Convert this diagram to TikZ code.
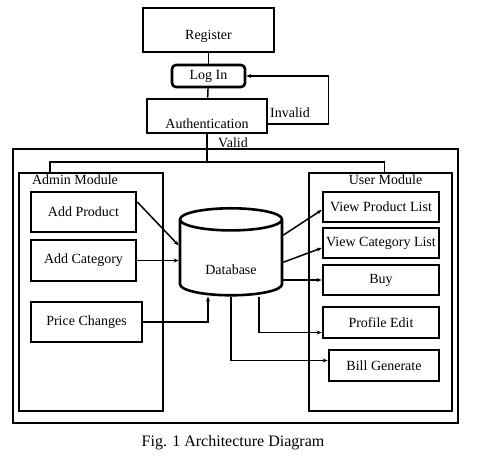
\documentclass[tikz,border=0pt]{standalone}
\usepackage{fontspec}
\setmainfont{Liberation Serif}
\usetikzlibrary{shapes.geometric}
\usetikzlibrary{arrows.meta}

\begin{document}
\begin{tikzpicture}[x=1pt, y=-1pt,
					every node/.style={font=\fontsize{14}{16}\selectfont, inner sep=2pt},
					box/.style={draw=black, line width=2.6pt},
					module/.style={draw=black, line width=2.4pt},
					frame/.style={draw=black, line width=2pt},
					wire/.style={line width=1.5pt},
					arr/.style={wire, -{Stealth[length=5pt,width=4pt]}}]
\useasboundingbox (0,0) rectangle (477,457);
\node[box, minimum width=131pt, minimum height=44pt, text height=29pt, text depth=9pt, inner ysep=3pt] (reg) at (208.5,30) {Register};
\node[box, rounded corners=4pt, minimum width=73pt, minimum height=22pt] (login) at (208.5,76) {Log In};
\node[box, minimum width=120pt, minimum height=34pt, text height=27pt, text depth=1pt, inner ysep=3pt] (auth) at (207,116) {Authentication};
\node[frame, minimum width=445pt, minimum height=274pt] (sys) at (235.5,286) {};
\node[module, minimum width=144pt, minimum height=238pt] (admin) at (91,292) {};
\node[module, minimum width=143pt, minimum height=238pt] (user) at (380.5,292) {};
\node[anchor=north west, inner sep=0pt] (admintitle) at ([xshift=14pt,yshift=-3pt]admin.north west) {Admin Module};
\node[anchor=north, inner sep=0pt] (usertitle) at ([xshift=5pt,yshift=-3pt]user.north) {User Module};
\node[box, minimum width=105pt, minimum height=40pt] (ap) at (83.5,212) {Add Product};
\node[box, minimum width=105pt, minimum height=41pt] (ac) at (83.5,260.5) {Add Category};
\node[box, minimum width=111pt, minimum height=40pt] (pc) at (86.5,322) {Price Changes};
\node[box, cylinder, shape border rotate=90, aspect=0.4, minimum width=102pt, minimum height=87pt, text height=31pt, text depth=0pt] (db) at (231,259.5) {Database};
\node[box, minimum width=116pt, minimum height=30pt] (vpl) at (381,207) {View Product List};
\node[box, minimum width=116pt, minimum height=30pt] (vcl) at (381,243) {View Category List};
\node[box, minimum width=116pt, minimum height=30pt] (buy) at (381,280) {Buy};
\node[box, minimum width=116pt, minimum height=31pt] (pe) at (381,322.5) {Profile Edit};
\node[box, minimum width=110pt, minimum height=31pt] (bg) at (384,365.5) {Bill Generate};
\node (inv) at (290,113) {Invalid};
\node (val) at (233,143) {Valid};
\node[font=\fontsize{16}{18}\selectfont] (cap) at (233,443) {Fig. 1 Architecture Diagram};
\coordinate (bus) at (207,162);
\draw[wire] (reg) -- (login);
\draw[wire] (login) -- (auth);
\draw[arr] ([yshift=-8pt]auth.east) -- ++(60,0) |- (login.east);
\draw[wire] (auth.south) -- (bus);
\draw[wire] ([xshift=-41pt]admin.north) |- (bus) -| ([xshift=4pt]user.north);
\draw[arr] ([yshift=10pt]ap.east) -- (db.165);
\draw[arr] (ac.east) -- (ac.east -| db.180);
\draw[arr] (pc.east) -| ([xshift=-23pt]db.south);
\draw[arr] (db.25) -- ([yshift=-3pt]vpl.west);
\draw[arr] (db.-3) -- ([yshift=-5pt]vcl.west);
\draw[arr] (buy.west -| db.0) -- (buy.west);
\draw[arr] ([xshift=28pt]db.south) |- ([yshift=-10pt]pe.west);
\draw[arr] (db.south) |- ([yshift=5pt]bg.west);
\end{tikzpicture}
\end{document}
